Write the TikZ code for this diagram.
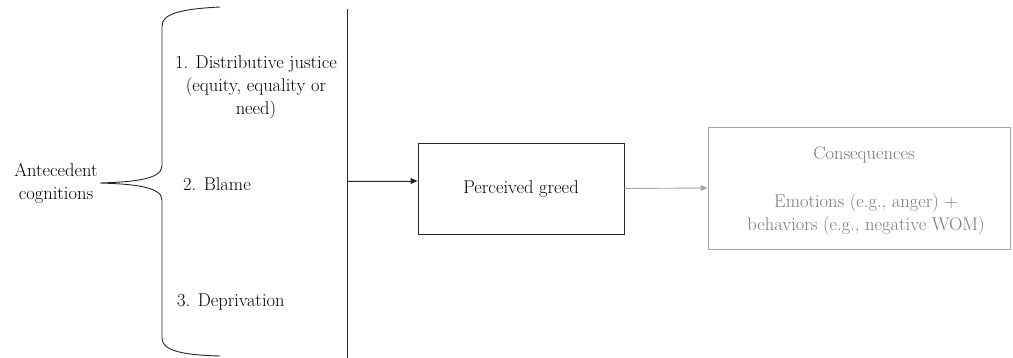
\documentclass[tikz,border=0pt]{standalone}
\usetikzlibrary{arrows.meta}
\definecolor{gline}{RGB}{165,165,165}
\definecolor{gtext}{RGB}{120,120,120}
\begin{document}
\begin{tikzpicture}[x=1pt,y=-1pt,
  txt/.style={inner sep=0pt,font=\fontsize{18.5pt}{23pt}\selectfont,align=center},
  line/.style={line width=0.9pt,draw=black!85},
  tip/.style={-{Triangle[length=7pt,width=6pt]}}]
\useasboundingbox (0,0) rectangle (1013,358);
% left label
\node[txt] (ante) at (56,183) {Antecedent\\cognitions};
% brace
\coordinate (btop) at (220,7);
\coordinate (btip) at (100,183);
\coordinate (bbot) at (220,356);
\draw[line] (btop) .. controls (180,9) and (162,14) .. (162,26)
  -- (162,166) .. controls (162,180) and (130,182) .. (btip)
  .. controls (130,184) and (162,186) .. (162,200)
  -- (162,338) .. controls (162,350) and (180,355) .. (bbot);
% items
\node[txt] (i1) at (256,87) {1. Distributive justice\\(equity, equality or\\need)};
\node[txt,anchor=west] (i2) at (183,184) {2. Blame};
\node[txt,anchor=west] (i3) at (177,302) {3. Deprivation};
% vertical bar
\coordinate (vtop) at (347,9);
\coordinate (vbot) at (347,358);
\draw[line] (vtop) -- (vbot);
\coordinate (vmid) at (347,181);
% perceived greed
\node[line,draw,minimum width=206pt,minimum height=91pt,inner sep=0pt,
  font=\fontsize{18.5pt}{23pt}\selectfont] (pg) at (521,188.5) {Perceived greed};
\draw[line,fill=black!85,tip] (vmid) -- (vmid -| pg.west);
% consequences
\node[draw=gline,line width=0.9pt,minimum width=302pt,minimum height=122pt,inner sep=0pt] (cq) at (859,188) {};
\node[txt,text=gtext] (cqt) at (864,155) {Consequences};
\node[txt,text=gtext] (cqe) at (866,214) {Emotions (e.g., anger) +\\behaviors (e.g., negative WOM)};
\draw[gline,line width=0.9pt,tip] (pg.east) -- (cq.west);
\end{tikzpicture}
\end{document}
